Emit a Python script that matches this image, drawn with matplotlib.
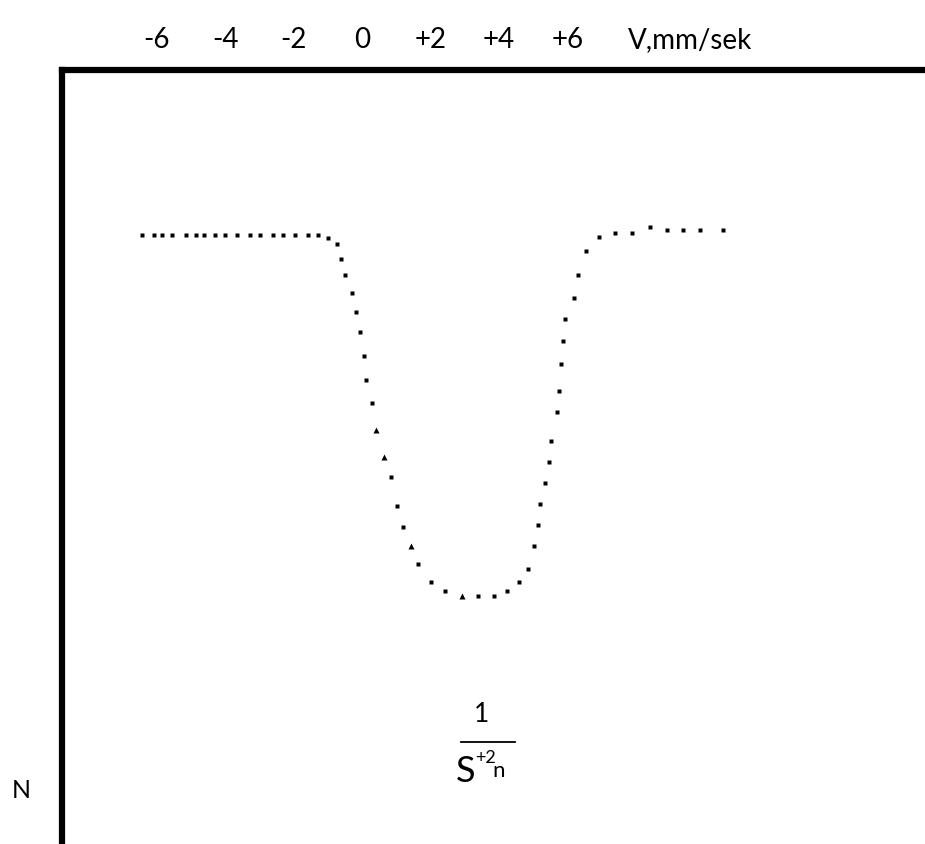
import numpy as np
import matplotlib.pyplot as plt
from matplotlib.lines import Line2D

plt.rcParams['font.family'] = ['Lato', 'DejaVu Sans']

# transmission spectrum: velocity (mm/s) vs relative count rate
velocity = [-6.44, -6.07, -5.84, -5.54, -5.15, -4.85, -4.62, -4.30, -4.01,
            -3.65, -3.27, -2.98, -2.61, -2.32, -1.96, -1.59, -1.28,
            -0.99, -0.74, -0.61, -0.50, -0.30, -0.18, -0.06, 0.06, 0.12,
            0.30, 0.40, 0.64, 0.85, 1.03, 1.21, 1.42, 1.63, 2.01, 2.43,
            2.93, 3.40, 3.87, 4.25, 4.60, 4.85, 5.04, 5.15, 5.21, 5.34,
            5.46, 5.52, 5.70, 5.76, 5.82, 5.89, 5.94, 6.19, 6.31, 6.54,
            6.92, 7.40, 7.89, 8.42, 8.91, 9.39, 9.88, 10.55]
counts = [1.000, 1.000, 1.000, 1.000, 1.000, 1.000, 1.000, 1.000, 1.000,
          1.000, 1.000, 1.000, 1.000, 1.000, 1.000, 1.000, 1.000,
          0.995, 0.986, 0.960, 0.935, 0.904, 0.874, 0.840, 0.801, 0.762,
          0.724, 0.680, 0.636, 0.602, 0.555, 0.520, 0.489, 0.460, 0.430,
          0.416, 0.407, 0.407, 0.407, 0.416, 0.430, 0.451, 0.490, 0.524,
          0.559, 0.593, 0.628, 0.662, 0.710, 0.744, 0.788, 0.826, 0.862,
          0.896, 0.935, 0.974, 0.996, 1.004, 1.004, 1.013, 1.008, 1.008,
          1.008, 1.008]

tick_values = [-6, -4, -2, 0, 2, 4, 6]
tick_labels = ['-6', '-4', '-2', '0', '+2', '+4', '+6']
unit_pos = 9.6
unit_label = 'V,mm/sek'

W, H = 925, 844
fig = plt.figure(figsize=(W / 100, H / 100), dpi=100)
ax = fig.add_axes([62 / W, 0, 1 - 62 / W, 1 - 70 / H])

v = np.array(velocity)
n = np.array(counts)
tri = np.zeros(len(v), dtype=bool)
tri[[27, 28, 32, 36]] = True

ax.plot(v[~tri], n[~tri], linestyle='none', marker='s', ms=3.5,
        color='black', mec='none')
ax.plot(v[tri], n[tri], linestyle='none', marker='^', ms=4.0,
        color='black', mec='none')

ax.set_xlim(-8.77, 16.46)
ax.set_ylim(0, 1.271)

for side in ['right', 'bottom']:
    ax.spines[side].set_visible(False)
for side in ['top', 'left']:
    ax.spines[side].set_linewidth(4.5)

ax.set_xticks(tick_values + [unit_pos], tick_labels + [unit_label])
ax.tick_params(axis='x', top=True, bottom=False, labeltop=True,
               labelbottom=False, length=0, pad=12, labelsize=20)
ax.set_yticks([])

# 1 / S^{+2}_n annotation under the dip
fig.text(482 / W, 1 - 714 / H, '1', ha='center', va='center', fontsize=19)
fig.add_artist(Line2D([461 / W, 515 / W], [1 - 742 / H, 1 - 742 / H],
                      color='black', lw=1.3))
fig.text(466 / W, 1 - 782 / H, 'S', ha='center', va='baseline', fontsize=26)
fig.text(485 / W, 1 - 758 / H, '+2', ha='center', va='center', fontsize=13)
fig.text(499 / W, 1 - 777 / H, 'n', ha='center', va='baseline', fontsize=16)

fig.text(21 / W, 1 - 790 / H, 'N', ha='center', va='center', fontsize=18)

fig.savefig('out.png', dpi=100)
